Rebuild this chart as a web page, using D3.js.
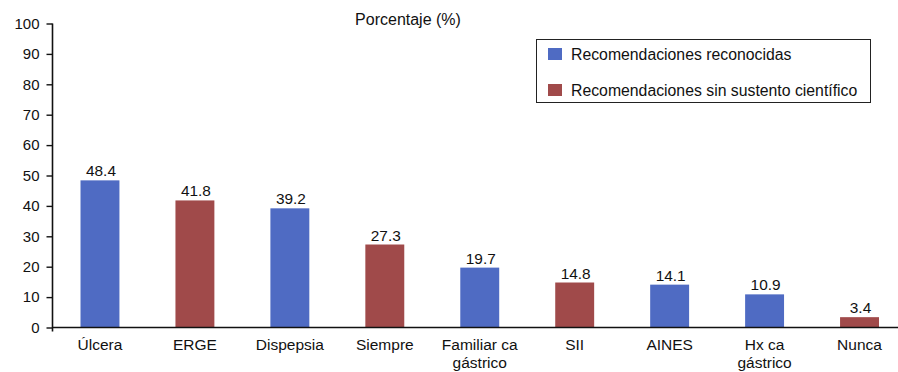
<!DOCTYPE html>
<html>
<head>
<meta charset="utf-8">
<script src="https://cdn.jsdelivr.net/npm/d3@7"></script>
<style>
  html, body { margin: 0; padding: 0; background: #fff; }
  svg { display: block; font-family: "Liberation Sans", Arial, Helvetica, sans-serif; }
</style>
</head>
<body>
<svg id="chart" width="898" height="372"></svg>
<script>
// Categories (line breaks split with "\n"), values and group of each bar
const categories = ["Úlcera", "ERGE", "Dispepsia", "Siempre", "Familiar ca\ngástrico", "SII", "AINES", "Hx ca\ngástrico", "Nunca"];
const values = [48.4, 41.8, 39.2, 27.3, 19.7, 14.8, 14.1, 10.9, 3.4];
const groups = ["rec", "sin", "rec", "sin", "rec", "sin", "rec", "rec", "sin"];
const seriesKeys = ["rec", "sin"];
const seriesNames = ["Recomendaciones reconocidas", "Recomendaciones sin sustento científico"];
const seriesColors = ["#4f6bc3", "#a04a4a"];
const yTicks = [0, 10, 20, 30, 40, 50, 60, 70, 80, 90, 100];

const svg = d3.select("#chart");
const plotLeft = 52.5, plotBottom = 327.5, plotTop = 23.5;
const FONT = "Liberation Sans, Arial, sans-serif";

const x = d3.scaleBand().domain(categories).range([plotLeft, 907]).paddingInner(0.59).paddingOuter(0.295);
const y = d3.scaleLinear().domain([0, 100]).range([plotBottom, plotTop]);
const color = d3.scaleOrdinal().domain(seriesKeys).range(seriesColors);

// Bars
svg.append("g").selectAll("rect")
  .data(categories)
  .join("rect")
  .attr("x", (d) => x(d))
  .attr("width", x.bandwidth())
  .attr("y", (d, i) => y(values[i]))
  .attr("height", (d, i) => y(0) - y(values[i]))
  .attr("fill", (d, i) => color(groups[i]));

// Value labels above bars
svg.append("g").selectAll("text")
  .data(categories)
  .join("text")
  .attr("x", (d) => x(d) + x.bandwidth() / 2 + 1)
  .attr("y", (d, i) => y(values[i]) - 4)
  .attr("text-anchor", "middle")
  .attr("font-size", 15.4)
  .attr("fill", "#111")
  .text((d, i) => values[i].toFixed(1));

// Y axis
const yAxis = svg.append("g")
  .attr("transform", `translate(${plotLeft},0)`)
  .call(d3.axisLeft(y).tickValues(yTicks).tickSize(6).tickPadding(7));
yAxis.select(".domain").attr("stroke", "#111").attr("stroke-width", 1.6).attr("d", `M0,${plotTop}V${plotBottom + 4}`);
yAxis.selectAll(".tick line").attr("stroke", "#111").attr("stroke-width", 1.4);
yAxis.selectAll(".tick text").attr("font-size", 15).attr("fill", "#111").attr("font-family", FONT);

// X axis (no tick marks, multi-line labels)
const xAxis = svg.append("g")
  .attr("transform", `translate(0,${plotBottom})`)
  .call(d3.axisBottom(x).tickSize(0).tickPadding(0));
xAxis.select(".domain").attr("stroke", "#111").attr("stroke-width", 1.6).attr("d", `M${plotLeft},0H898`);
xAxis.selectAll(".tick text").each(function (d) {
  const t = d3.select(this);
  t.text(null).attr("y", 0).attr("dy", null).attr("font-size", 15.5).attr("fill", "#111")
    .attr("font-family", FONT);
  d.split("\n").forEach((line, k) => {
    t.append("tspan").attr("x", 0).attr("y", 22 + k * 18).text(line);
  });
});

// Title
svg.append("text")
  .attr("x", 408).attr("y", 25)
  .attr("text-anchor", "middle")
  .attr("font-size", 16)
  .attr("fill", "#111")
  .text("Porcentaje (%)");

// Legend
const legend = svg.append("g");
legend.append("rect")
  .attr("x", 536.5).attr("y", 39.5).attr("width", 334).attr("height", 63)
  .attr("fill", "#fff").attr("stroke", "#222").attr("stroke-width", 1);
seriesKeys.forEach((k, i) => {
  const yy = 48 + i * 36;
  legend.append("rect").attr("x", 548).attr("y", yy).attr("width", 14).attr("height", 12).attr("fill", color(k));
  legend.append("text").attr("x", 571).attr("y", yy + 11.5)
    .attr("font-size", 15.8).attr("fill", "#111").text(seriesNames[i]);
});
</script>
</body>
</html>
